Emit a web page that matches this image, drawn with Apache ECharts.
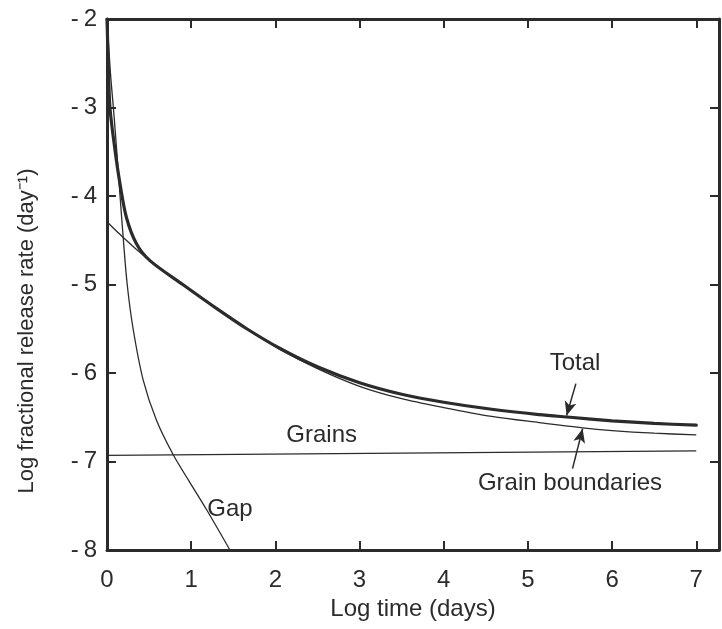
<!DOCTYPE html>
<html>
<head>
<meta charset="utf-8">
<script src="https://cdn.jsdelivr.net/npm/echarts@6/dist/echarts.min.js"></script>
<style>
html,body{margin:0;padding:0;background:#ffffff;}
#chart{width:722px;height:629px;}
</style>
</head>
<body>
<div id="chart"></div>
<script>
// ---- data (log time in days, log fractional release rate) ----
const xTicks = [0, 1, 2, 3, 4, 5, 6, 7];
const yTicks = [-8, -7, -6, -5, -4, -3, -2];

const totalX = [0, 0.015, 0.035, 0.095, 0.154, 0.23, 0.35, 0.51, 0.9, 1.3, 1.66, 2.05, 2.5, 3.0, 3.5, 4.0, 4.57, 5.13, 5.5, 6.0, 6.5, 7.0];
const totalY = [-2, -2.5, -3.0, -3.48, -3.86, -4.24, -4.54, -4.73, -5.0, -5.27, -5.5, -5.72, -5.93, -6.11, -6.24, -6.33, -6.41, -6.47, -6.5, -6.54, -6.57, -6.59];

const gbX = [0, 0.15, 0.31, 0.51, 0.9, 1.3, 1.66, 2.05, 2.5, 3.0, 3.5, 4.0, 4.57, 5.13, 5.65, 6.0, 6.5, 7.0];
const gbY = [-4.29, -4.43, -4.57, -4.73, -5.0, -5.27, -5.5, -5.73, -5.95, -6.15, -6.29, -6.39, -6.49, -6.56, -6.62, -6.65, -6.68, -6.70];

const grainsX = [0, 7];
const grainsY = [-6.93, -6.88];

const gapX = [0, 0.04, 0.08, 0.115, 0.155, 0.195, 0.24, 0.31, 0.43, 0.59, 0.79, 0.98, 1.18, 1.46];
const gapY = [-2, -2.6, -3.05, -3.48, -4.0, -4.5, -5.0, -5.5, -6.08, -6.54, -6.93, -7.23, -7.54, -8.0];

// annotation anchors (data units)
const labelTexts = ['Total', 'Grain boundaries', 'Grains', 'Gap'];
const labelX = [5.56, 5.50, 2.55, 1.46];
const labelY = [-5.89, -7.25, -6.71, -7.54];
const arrowTotal = [[5.57, -6.12], [5.46, -6.48]];
const arrowGB = [[5.53, -7.08], [5.65, -6.63]];

const zip = (xs, ys) => xs.map((x, i) => [x, ys[i]]);
const INK = '#2b2b2b';
const FONT = '"Liberation Sans", Arial, Helvetica, sans-serif';

const chart = echarts.init(document.getElementById('chart'));
const tickLen = 9;
const common = {
  min: 0, max: 7.27, interval: 1, type: 'value',
  axisLine: {show: true, onZero: false, lineStyle: {color: INK, width: 3}},
  axisTick: {show: true, inside: true, length: tickLen, lineStyle: {color: INK, width: 2}},
  splitLine: {show: false}
};
const commonY = {
  min: -8, max: -2, interval: 1, type: 'value',
  axisLine: {show: true, onZero: false, lineStyle: {color: INK, width: 3}},
  axisTick: {show: true, inside: true, length: tickLen, lineStyle: {color: INK, width: 2}},
  splitLine: {show: false}
};

const option = {
  backgroundColor: '#ffffff',
  animation: false,
  grid: {left: 107, right: 1, top: 19, bottom: 79},
  xAxis: [
    Object.assign({}, common, {
      position: 'bottom',
      name: 'Log time (days)', nameLocation: 'middle', nameGap: 45,
      nameTextStyle: {fontFamily: FONT, fontSize: 24, color: INK},
      axisLabel: {
        margin: 18, fontFamily: FONT, fontSize: 24, color: INK,
        formatter: v => xTicks.indexOf(v) >= 0 ? String(v) : ''
      }
    }),
    Object.assign({}, common, {position: 'top', axisLabel: {show: false}})
  ],
  yAxis: [
    Object.assign({}, commonY, {
      position: 'left',
      axisLabel: {
        margin: 10, fontFamily: FONT, fontSize: 24, color: INK,
        formatter: v => yTicks.indexOf(v) >= 0 ? '-\u2009' + Math.abs(v) : ''
      }
    }),
    Object.assign({}, commonY, {position: 'right', axisLabel: {show: false}})
  ],
  graphic: [{
    type: 'text', x: 27, y: 331, rotation: Math.PI / 2,
    style: {
      text: 'Log fractional release rate (day\u207B\u00B9)',
      fontFamily: FONT, fontSize: 22, fill: INK,
      align: 'center', verticalAlign: 'middle'
    }
  }],
  series: [
    {
      name: 'Grains', type: 'line', data: zip(grainsX, grainsY),
      showSymbol: false, lineStyle: {color: INK, width: 1.3}
    },
    {
      name: 'Gap', type: 'line', data: zip(gapX, gapY), smooth: 0.3,
      showSymbol: false, lineStyle: {color: INK, width: 1.3}
    },
    {
      name: 'Grain boundaries', type: 'line', data: zip(gbX, gbY), smooth: 0.3,
      showSymbol: false, lineStyle: {color: INK, width: 1.3}
    },
    {
      name: 'Total', type: 'line', data: zip(totalX, totalY), smooth: 0.3,
      showSymbol: false, lineStyle: {color: INK, width: 3.2, cap: 'round'},
      markLine: {
        silent: true, symbol: ['none', 'arrow'], symbolSize: [9, 14],
        lineStyle: {color: INK, width: 1.5, type: 'solid'},
        label: {show: false},
        data: [
          [{coord: arrowTotal[0]}, {coord: arrowTotal[1]}],
          [{coord: arrowGB[0]}, {coord: arrowGB[1]}]
        ]
      },
      markPoint: {
        silent: true, symbol: 'circle', symbolSize: 0,
        label: {
          show: true, position: 'inside', fontFamily: FONT, fontSize: 24, color: INK,
          formatter: p => p.name
        },
        data: labelTexts.map((t, i) => ({name: t, coord: [labelX[i], labelY[i]]}))
      }
    }
  ]
};
chart.setOption(option);
</script>
</body>
</html>
